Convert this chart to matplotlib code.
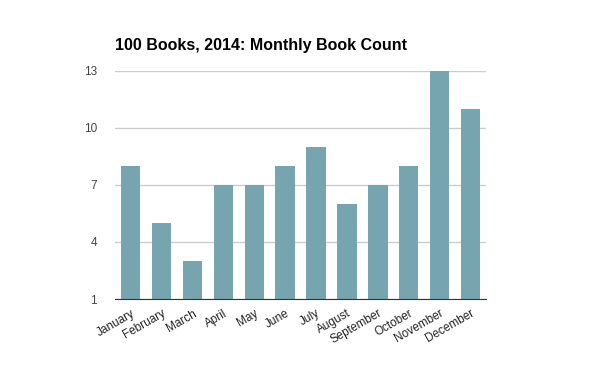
import numpy as np
import matplotlib.pyplot as plt

plt.rcParams['font.family'] = ['Liberation Sans', 'DejaVu Sans']

months = ['January', 'February', 'March', 'April', 'May', 'June', 'July',
          'August', 'September', 'October', 'November', 'December']
counts = [8, 5, 3, 7, 7, 8, 9, 6, 7, 8, 13, 11]
yticks = [1, 4, 7, 10, 13]

fig = plt.figure(figsize=(6, 3.71), dpi=100)
ax = fig.add_axes([0.192, 0.194, 0.618, 0.615])

x = np.arange(len(months))
ax.bar(x, np.array(counts) - 1, bottom=1, width=0.63, color='#76a5af', zorder=3)

ax.set_xlim(-0.5, len(months) - 0.5)
ax.set_ylim(1, 13)
ax.set_yticks(yticks)
ax.set_yticklabels([str(t) for t in yticks], fontsize=8.5, color='#444444')
ax.set_xticks(x)
ax.set_xticklabels(months, rotation=30, ha='right', rotation_mode='anchor',
                   fontsize=8.5, color='#222222')
ax.tick_params(axis='both', length=0)
ax.tick_params(axis='y', pad=13)
ax.tick_params(axis='x', pad=6)

ax.grid(axis='y', color='#cccccc', linewidth=1, zorder=0)
for s in ['top', 'right', 'left']:
    ax.spines[s].set_visible(False)
ax.spines['bottom'].set_color('#333333')
ax.spines['bottom'].set_zorder(4)

fig.text(0.192, 0.877, '100 Books, 2014: Monthly Book Count', fontsize=11.5,
         fontweight='bold', ha='left', va='center', color='#000000')

fig.savefig('out.png', dpi=100)
